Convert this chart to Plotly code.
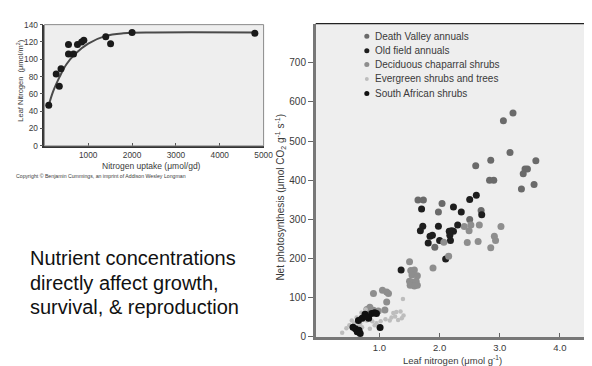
import plotly.graph_objects as go

W, H = 592, 366

# ---------------- data: inset chart (leaf N vs N uptake) ----------------
uptake_x = [100, 270, 340, 380, 550, 550, 665, 755, 850, 900, 1400, 1510, 2000, 4800]
leafN_y = [47, 83, 69, 89, 117, 106, 106, 117, 120, 122, 126, 118, 131, 130]
fit_x = [100, 200, 350, 500, 700, 1000, 1400, 1800, 2500, 4800]
fit_y = [47, 63, 80, 94, 106, 118, 127, 130, 131, 131]
inset_yticks = [0, 20, 40, 60, 80, 100, 120, 140]
inset_xticks = [1000, 2000, 3000, 4000, 5000]

# ---------------- data: main scatter (net photosynthesis vs leaf N) ----------------
series_names = ["Death Valley annuals", "Old field annuals", "Deciduous chaparral shrubs",
                "Evergreen shrubs and trees", "South African shrubs"]

dv_x = [3.22, 3.06, 3.17, 3.60, 2.85, 2.60, 3.46, 3.42, 3.39, 3.57, 3.36, 2.83, 2.90,
        1.64, 1.73, 2.04, 1.98, 2.69, 2.50, 1.92]
dv_y = [572, 552, 471, 450, 451, 437, 429, 429, 417, 389, 378, 400, 400,
        350, 350, 341, 319, 323, 300, 229]

of_x = [2.61, 2.50, 1.70, 2.23, 2.36, 2.70, 1.72, 1.68, 1.98, 2.30, 2.20, 2.23, 2.16,
        1.88, 1.84, 2.17, 2.00, 2.18, 1.81, 2.10, 1.36]
of_y = [362, 351, 327, 332, 319, 312, 283, 271, 283, 286, 271, 270, 270,
        260, 257, 260, 246, 246, 240, 199, 171]

dc_x = [2.41, 2.52, 2.66, 2.49, 3.02, 2.91, 2.93, 2.46, 2.64, 2.85, 2.07, 2.15, 1.89,
        1.52, 1.50, 1.58, 1.54, 1.63, 1.50, 1.55, 1.61, 1.51, 1.58, 1.63,
        0.90, 1.05, 1.12, 1.15, 1.12, 1.09, 0.90, 0.98, 0.79, 0.84]
dc_y = [282, 286, 286, 271, 282, 257, 246, 241, 244, 228, 242, 206, 176,
        170, 192, 171, 158, 156, 142, 140, 142, 132, 130, 132,
        111, 119, 115, 111, 89, 69, 68, 66, 70, 76]

ev_x = [0.38, 0.45, 0.50, 0.54, 0.58, 0.63, 0.68, 0.74, 0.79, 0.71, 0.54, 0.84, 0.60,
        0.66, 0.88, 0.92, 1.17, 1.20, 1.23, 1.26, 1.28, 1.31, 1.35, 1.37, 1.39, 1.40,
        0.95, 1.02, 1.10, 0.70, 0.77, 0.62]
ev_y = [11, 22, 30, 42, 35, 38, 34, 43, 42, 25, 25, 21, 18,
        28, 40, 30, 42, 50, 61, 52, 64, 43, 65, 48, 97, 55,
        35, 40, 45, 62, 70, 50]

sa_x = [0.60, 0.66, 0.63, 0.68, 0.56, 0.76, 0.82, 0.71, 0.87, 0.65, 1.01, 0.78, 0.92, 0.95]
sa_y = [21, 17, 13, 9, 25, 58, 48, 48, 60, 42, 24, 52, 62, 60]

main_yticks = [0, 100, 200, 300, 400, 500, 600, 700]
main_xticks = [1, 2, 3, 4]
main_xticktext = ["1.0", "2.0", "3.0", "4.0"]

body_lines = ["Nutrient concentrations", "directly affect growth,", "survival, & reproduction"]

# ---------------- styles ----------------
colors = ["#6a6a6a", "#1e1e1e", "#8e8e8e", "#bdbdbd", "#111111"]
sizes = [7, 7, 7, 4.5, 7]
FONT = "Liberation Sans, Arial, Helvetica, sans-serif"
TXT = "#3a3a3a"


def px(x):
    return x / W


def py(y):
    return 1 - y / H


fig = go.Figure()

# inset
fig.add_trace(go.Scatter(x=fit_x, y=fit_y, mode="lines", line=dict(color="#4a4a4a", width=2, shape="spline"),
                         xaxis="x", yaxis="y", showlegend=False, hoverinfo="skip"))
fig.add_trace(go.Scatter(x=uptake_x, y=leafN_y, mode="markers",
                         marker=dict(color="#1a1a1a", size=7), xaxis="x", yaxis="y", showlegend=False))

# main scatter
all_x = [dv_x, of_x, dc_x, ev_x, sa_x]
all_y = [dv_y, of_y, dc_y, ev_y, sa_y]
for name, xs, ys, c, s in zip(series_names, all_x, all_y, colors, sizes):
    fig.add_trace(go.Scatter(x=xs, y=ys, mode="markers", name=name,
                             marker=dict(color=c, size=s, line=dict(width=0)),
                             xaxis="x2", yaxis="y2", showlegend=False))

ins_dom_x = [px(37), px(260)]
ins_dom_y = [py(137), py(12)]
main_dom_x = [px(313), 1.0]
main_dom_y = [py(334), py(11)]

shapes = []
annotations = []

# inset border (light)
shapes.append(dict(type="rect", xref="paper", yref="paper", x0=ins_dom_x[0], x1=ins_dom_x[1],
                   y0=ins_dom_y[0], y1=ins_dom_y[1], line=dict(color="#8a8a8a", width=1), layer="above"))
# main top line
shapes.append(dict(type="line", xref="paper", yref="paper", x0=main_dom_x[0], x1=1.0,
                   y0=main_dom_y[1], y1=main_dom_y[1], line=dict(color="#222222", width=1.2), layer="above"))

# manual legend
leg_rows = [24, 39, 53, 68, 83]
for name, c, s, r in zip(series_names, colors, sizes, leg_rows):
    rad = 2.6 if s > 5 else 2.0
    shapes.append(dict(type="circle", xref="paper", yref="paper",
                       x0=px(365 - rad), x1=px(365 + rad), y0=py(r + rad), y1=py(r - rad),
                       fillcolor=c, line=dict(width=0)))
    annotations.append(dict(text=name, xref="paper", yref="paper", x=px(371), y=py(r),
                            xanchor="left", yanchor="middle", showarrow=False,
                            font=dict(size=10, color=TXT, family=FONT)))

# inset axis titles and copyright
annotations.append(dict(text="Leaf Nitrogen  (μmol/m<sup>2</sup>)", xref="paper", yref="paper",
                        x=px(12), y=py(70), textangle=-90, showarrow=False,
                        xanchor="center", yanchor="middle", font=dict(size=7.5, color=TXT, family=FONT)))
annotations.append(dict(text="Nitrogen uptake (μmol/gd)", xref="paper", yref="paper",
                        x=px(146), y=py(158), showarrow=False, xanchor="center", yanchor="middle",
                        font=dict(size=8.5, color=TXT, family=FONT)))
annotations.append(dict(text="Copyright © Benjamin Cummings, an imprint of Addison Wesley Longman",
                        xref="paper", yref="paper", x=px(6), y=py(168), showarrow=False,
                        xanchor="left", yanchor="middle", font=dict(size=5.2, color=TXT, family=FONT)))

# main axis titles
annotations.append(dict(text="Net photosynthesis (μmol CO<sub>2</sub> g<sup>-1</sup> s<sup>-1</sup>)",
                        xref="paper", yref="paper", x=px(277), y=py(190), textangle=-90, showarrow=False,
                        xanchor="center", yanchor="middle", font=dict(size=10, color=TXT, family=FONT)))
annotations.append(dict(text="Leaf nitrogen (μmol g<sup>-1</sup>)", xref="paper", yref="paper",
                        x=px(452), y=py(366), showarrow=False, xanchor="center", yanchor="bottom",
                        font=dict(size=9.5, color=TXT, family=FONT)))

# body text, one annotation per line
for line, ly in zip(body_lines, [253, 278, 303]):
    annotations.append(dict(text=line, xref="paper", yref="paper",
                            x=px(20), y=py(ly), showarrow=False, xanchor="left", yanchor="middle",
                            font=dict(size=20, color="#111111", family=FONT)))

fig.update_layout(
    width=W, height=H, margin=dict(l=0, r=0, t=0, b=0),
    paper_bgcolor="white", plot_bgcolor="#eeeeee",
    font=dict(family=FONT, color=TXT),
    showlegend=False,
    xaxis=dict(domain=ins_dom_x, range=[0, 5000], tickvals=inset_xticks, ticks="inside", ticklen=3,
               tickcolor="#555", showgrid=False, zeroline=False, showline=True, linecolor="#333",
               linewidth=1.5, tickfont=dict(size=8.3, color=TXT), anchor="y"),
    yaxis=dict(domain=ins_dom_y, range=[0, 140], tickvals=inset_yticks, ticks="outside", ticklen=3,
               tickcolor="#555", showgrid=False, zeroline=False, showline=True, linecolor="#333",
               linewidth=1.5, tickfont=dict(size=8.3, color=TXT), anchor="x"),
    xaxis2=dict(domain=main_dom_x, range=[-0.06, 4.5], tickvals=main_xticks, ticktext=main_xticktext,
                ticks="inside", ticklen=4, tickcolor="#666", showgrid=False, zeroline=False,
                showline=True, linecolor="#777", linewidth=2.5, tickfont=dict(size=9.5, color=TXT),
                anchor="y2"),
    yaxis2=dict(domain=main_dom_y, range=[0, 800], tickvals=main_yticks, ticks="outside", ticklen=5,
                tickcolor="#666", showgrid=False, zeroline=False, showline=True, linecolor="#777",
                linewidth=2.5, tickfont=dict(size=10, color=TXT), anchor="x2"),
    shapes=shapes,
    annotations=annotations,
)

fig.write_html("out.html")
